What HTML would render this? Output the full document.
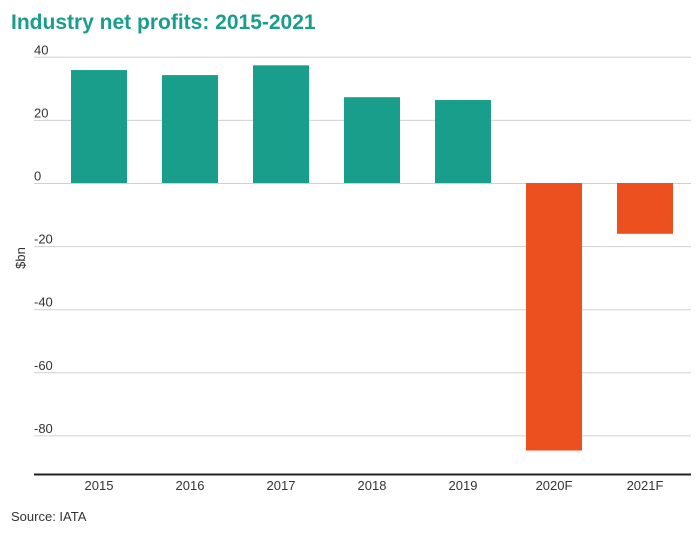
<!DOCTYPE html>
<html><head><meta charset="utf-8"><style>
body{margin:0;background:#fff;font-family:"Liberation Sans",sans-serif}
svg{display:block}
</style></head><body>
<svg id="chart" width="700" height="537" viewBox="0 0 700 537">
<text x="11" y="29" font-size="21" font-weight="bold" fill="#1a9e8c">Industry net profits: 2015-2021</text>
<text transform="translate(25,258) rotate(-90)" text-anchor="middle" font-size="13" fill="#333">$bn</text>
<text x="11" y="521" font-size="13" fill="#333">Source: IATA</text>
<g id="grid"></g><g id="bars"></g><g id="xlabels"></g>
<line x1="34" x2="691" y1="474.5" y2="474.5" stroke="#222" stroke-width="2"/>
</svg>
<script>
const categories=["2015","2016","2017","2018","2019","2020F","2021F"];
const profits=[35.8,34.2,37.3,27.2,26.3,-84.8,-16.1];
const yTicks=[40,20,0,-20,-40,-60,-80];
const NS="http://www.w3.org/2000/svg";
function y(v){return 183-v*3.155;}
function x(i){return 99+i*91;}
function mk(t,a,p){const e=document.createElementNS(NS,t);for(const k in a)e.setAttribute(k,a[k]);p.appendChild(e);return e;}
const grid=document.getElementById('grid');
yTicks.forEach(t=>{
 const l=mk('line',{x1:34,x2:691,y1:y(t)+0.5,y2:y(t)+0.5,stroke:'#d0d0d0','stroke-width':1},grid);
 
 
 const tx=mk('text',{x:34,y:y(t)-2.5,'font-size':13,fill:'#333'},grid);
 tx.textContent=t;
 
 
});
const bars=document.getElementById('bars'),xl=document.getElementById('xlabels');
profits.forEach((v,i)=>{
 const top=Math.min(y(v),y(0)),h=Math.abs(y(v)-y(0));
 const r=mk('rect',{x:x(i)-28,y:top,width:56,height:h,fill:v>=0?'#1a9e8c':'#eb501e'},bars);
 
 
 const t=mk('text',{x:x(i),y:490,'text-anchor':'middle','font-size':13,fill:'#333'},xl);
 t.textContent=categories[i];
 
 
});
</script>
</body></html>
